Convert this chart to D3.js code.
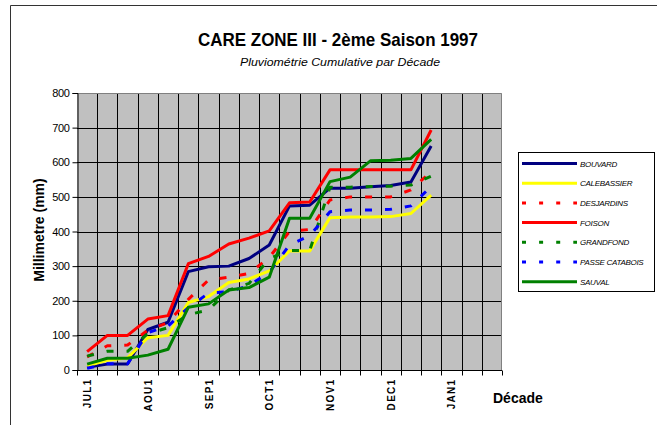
<!DOCTYPE html>
<html>
<head>
<meta charset="utf-8">
<script src="https://cdn.jsdelivr.net/npm/d3@7"></script>
<style>
  body { margin: 0; background: #fff; }
  svg { display: block; font-family: "Liberation Sans", Arial, sans-serif; }
</style>
</head>
<body>
<svg id="chart" width="657" height="425"></svg>
<script>
// Décades (Jul -> Jan), only every third one is labelled
const decades = ["JUL1","JUL2","JUL3","AOU1","AOU2","AOU3","SEP1","SEP2","SEP3",
  "OCT1","OCT2","OCT3","NOV1","NOV2","NOV3","DEC1","DEC2","DEC3","JAN1","JAN2","JAN3"];
const shownLabels = ["JUL1","AOU1","SEP1","OCT1","NOV1","DEC1","JAN1"];
const yTicks = [0,100,200,300,400,500,600,700,800];

// cumulative rainfall (mm) per station
const bouvard      = [8,17,17,117,138,284,298,300,322,361,474,476,525,525,529,533,543,647];
const calebassier  = [12,28,35,93,100,195,212,253,263,286,344,344,440,442,442,443,452,505];
const desjardins   = [38,70,72,115,137,204,260,268,279,325,400,406,491,500,500,500,520,573];
const foison       = [53,100,100,147,157,307,328,364,381,402,483,485,578,578,578,578,578,693];
const grandfond    = [40,54,54,105,122,160,173,231,250,322,345,345,528,528,530,531,534,560];
const passeCatabois= [5,18,18,108,127,180,222,226,244,282,361,388,457,462,462,464,474,530];
const sauval       = [17,34,34,43,60,181,191,231,238,268,438,438,544,557,604,606,611,666];

const series = [
  {name: "BOUVARD",        values: bouvard,       color: "#000080", dashed: false},
  {name: "CALEBASSIER",    values: calebassier,   color: "#ffff00", dashed: false},
  {name: "DESJARDINS",     values: desjardins,    color: "#ff0000", dashed: true},
  {name: "FOISON",         values: foison,        color: "#ff0000", dashed: false},
  {name: "GRANDFOND",      values: grandfond,     color: "#008000", dashed: true},
  {name: "PASSE CATABOIS", values: passeCatabois, color: "#0000ff", dashed: true},
  {name: "SAUVAL",         values: sauval,        color: "#008000", dashed: false}
];

const svg = d3.select("#chart");

// outer frame (chart is cropped on the right / bottom)
svg.append("path")
  .attr("d", "M10.5,425 V5.5 H657")
  .attr("fill", "none").attr("stroke", "#333").attr("stroke-width", 1);

const plot = {left: 77, top: 93, right: 502, bottom: 370};

const x = d3.scaleBand()
  .domain(decades)
  .range([plot.left, plot.right])
  .paddingInner(0).paddingOuter(0);

const y = d3.scaleLinear()
  .domain([0, 800])
  .range([plot.bottom, plot.top]);

// plot background
svg.append("rect")
  .attr("x", plot.left).attr("y", plot.top)
  .attr("width", plot.right - plot.left).attr("height", plot.bottom - plot.top)
  .attr("fill", "#c0c0c0");

// gridlines
const grid = svg.append("g").attr("stroke", "#000").attr("stroke-width", 1);
grid.selectAll("line.h")
  .data(yTicks.slice(1, -1))
  .enter().append("line")
  .attr("x1", plot.left).attr("x2", plot.right)
  .attr("y1", d => Math.round(y(d)) + 0.5).attr("y2", d => Math.round(y(d)) + 0.5);
grid.selectAll("line.v")
  .data(decades.slice(1))
  .enter().append("line")
  .attr("x1", d => Math.round(x(d)) + 0.5).attr("x2", d => Math.round(x(d)) + 0.5)
  .attr("y1", plot.top).attr("y2", plot.bottom);

// top and right border of plot area
svg.append("path")
  .attr("d", `M${plot.left},${plot.top + 0.5} H${plot.right - 0.5} V${plot.bottom}`)
  .attr("fill", "none").attr("stroke", "#808080").attr("stroke-width", 1);

// y axis
const yAxis = svg.append("g")
  .attr("transform", `translate(${plot.left + 0.5},0)`)
  .call(d3.axisLeft(y).tickValues(yTicks).tickSize(5).tickPadding(3));
yAxis.select(".domain").attr("stroke", "#000");
yAxis.selectAll("line").attr("stroke", "#000");
yAxis.selectAll("text")
  .attr("font-family", "Liberation Sans, Arial, sans-serif")
  .attr("font-size", 11).attr("letter-spacing", -0.4).attr("fill", "#000");

// x axis: ticks on cell boundaries, labels in cell centres
const xAxis = svg.append("g")
  .attr("transform", `translate(0,${plot.bottom + 0.5})`);
xAxis.append("line")
  .attr("x1", plot.left).attr("x2", plot.right)
  .attr("stroke", "#000");
xAxis.selectAll("line.tick")
  .data(decades.concat(["end"]))
  .enter().append("line")
  .attr("x1", (d, i) => Math.round(plot.left + i * x.bandwidth()) + 0.5)
  .attr("x2", (d, i) => Math.round(plot.left + i * x.bandwidth()) + 0.5)
  .attr("y1", 0).attr("y2", 5)
  .attr("stroke", "#000");
xAxis.selectAll("text")
  .data(shownLabels)
  .enter().append("text")
  .attr("transform", d => `translate(${x(d) + x.bandwidth() / 2 + 4},8) rotate(-90)`)
  .attr("text-anchor", "end")
  .attr("font-size", 10).attr("font-weight", "bold").attr("letter-spacing", 1.3)
  .attr("fill", "#000")
  .text(d => d);

// lines
const line = d3.line()
  .x((d, i) => x(decades[i]) + x.bandwidth() / 2)
  .y(d => y(d));

svg.append("g").selectAll("path")
  .data(series)
  .enter().append("path")
  .attr("d", d => line(d.values))
  .attr("fill", "none")
  .attr("stroke", d => d.color)
  .attr("stroke-width", 3)
  .attr("stroke-linejoin", "round")
  .attr("stroke-dasharray", d => d.dashed ? "7,13" : null);

// titles
svg.append("text")
  .attr("x", 338).attr("y", 46)
  .attr("text-anchor", "middle")
  .attr("font-size", 19).attr("font-weight", "bold")
  .attr("textLength", 280).attr("lengthAdjust", "spacingAndGlyphs")
  .text("CARE ZONE III - 2ème Saison 1997");

svg.append("text")
  .attr("x", 340).attr("y", 66)
  .attr("text-anchor", "middle")
  .attr("font-size", 11).attr("font-style", "italic")
  .attr("textLength", 200).attr("lengthAdjust", "spacingAndGlyphs")
  .text("Pluviométrie Cumulative par Décade");

svg.append("text")
  .attr("transform", "translate(44,230) rotate(-90)")
  .attr("text-anchor", "middle")
  .attr("font-size", 14).attr("font-weight", "bold")
  .text("Millimetre (mm)");

svg.append("text")
  .attr("x", 493).attr("y", 403)
  .attr("font-size", 14).attr("font-weight", "bold")
  .text("Décade");

// legend
const legend = svg.append("g");
legend.append("rect")
  .attr("x", 518.5).attr("y", 152.5)
  .attr("width", 136).attr("height", 139)
  .attr("fill", "#fff").attr("stroke", "#000");

const entry = legend.selectAll("g.entry")
  .data(series)
  .enter().append("g")
  .attr("transform", (d, i) => `translate(0,${163.5 + i * 19.7})`);
entry.append("line")
  .attr("x1", 522).attr("x2", 577)
  .attr("stroke", d => d.color)
  .attr("stroke-width", 3)
  .attr("stroke-dasharray", d => d.dashed ? "4,13.1" : null);
entry.append("text")
  .attr("x", 580).attr("y", 3)
  .attr("font-size", 8).attr("font-style", "italic")
  .attr("letter-spacing", -0.3)
  .text(d => d.name);
</script>
</body>
</html>
